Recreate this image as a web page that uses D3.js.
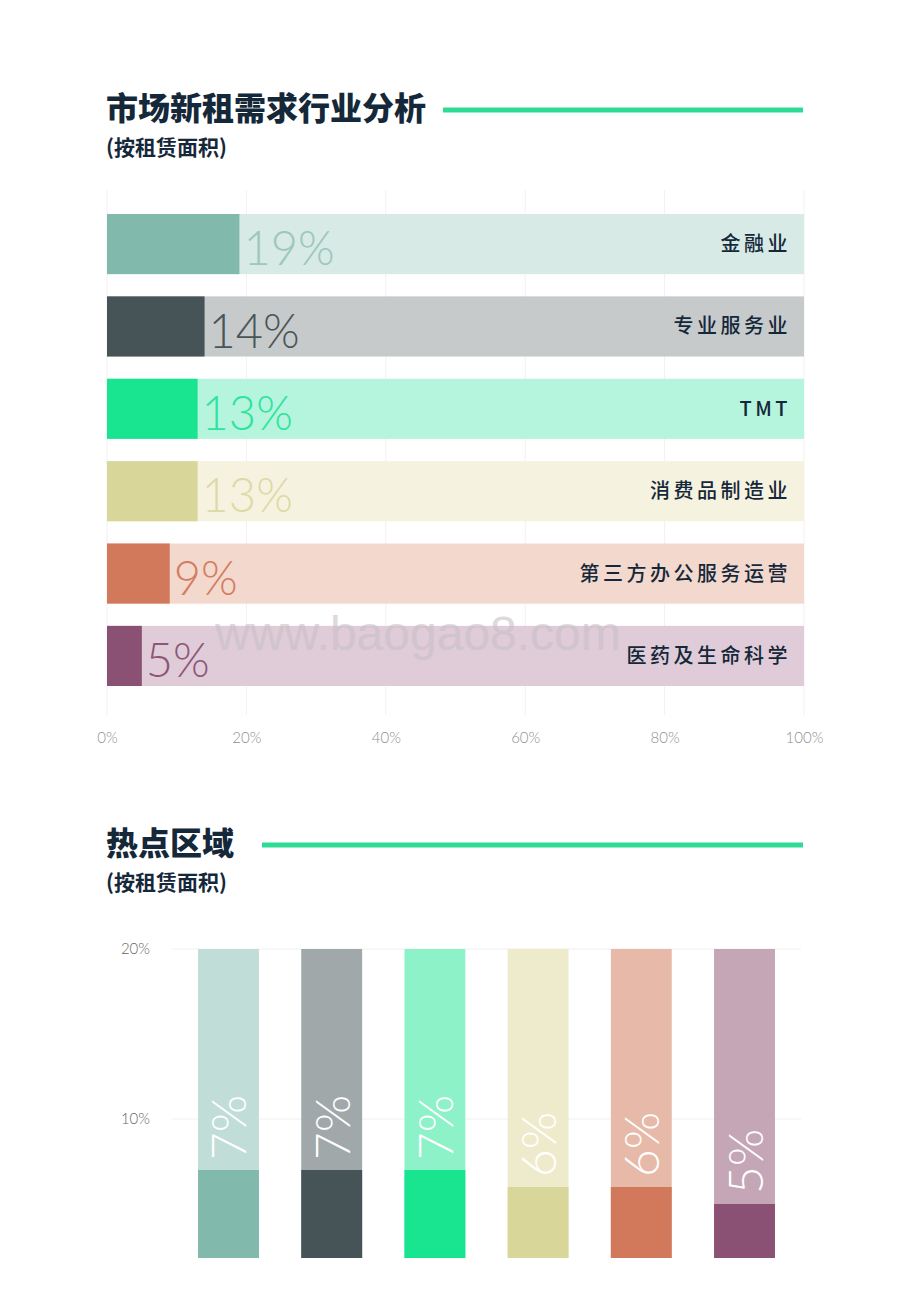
<!DOCTYPE html>
<html><head><meta charset="utf-8">
<script src="https://cdn.jsdelivr.net/npm/d3@7"></script>
<style>
html,body{margin:0;padding:0;background:#fff;}
svg{display:block;}
</style></head>
<body>
<svg id="c" width="920" height="1302"></svg>
<script>
// ---- data ----
const industries = ["金融业","专业服务业","TMT","消费品制造业","第三方办公服务运营","医药及生命科学"];
const industryShare = [19,14,13,13,9,5];
const industryTicks = [0,20,40,60,80,100];

const zoneShare = [7,7,7,6,6,5];
const zoneIds = ["z1","z2","z3","z4","z5","z6"];
const zoneTicks = [10,20];

const darkColors  = ["#82b9ad","#465457","#19e590","#d9d69a","#d2795b","#8a5174"];
const lightColors = ["#d7eae5","#c7cacb","#b6f5dd","#f5f3e0","#f3d8cd","#dfccd8"];
const labelColors = ["#9cc7bc","#4a5558","#2ee3a0","#dcdaa6","#d47c5f","#8d5676"];
const zoneLight   = ["#c1ddd7","#a0a8aa","#8ef2c8","#eeebcd","#e7b9a9","#c4a6b6"];

const svg = d3.select("#c");
const navy = "#15283a";
const cjk = "'Noto Sans CJK SC','Noto Sans',sans-serif";
const thin = "Lato,'Open Sans',sans-serif";

// ---- titles ----
function title(y, text, lineX, sub) {
  svg.append("text").attr("x",106).attr("y",y).text(text)
    .attr("font-family",cjk).attr("font-weight",900).attr("font-size",32).attr("fill",navy);
  svg.append("line").attr("x1",lineX).attr("x2",803).attr("y1",y-10).attr("y2",y-10)
    .attr("stroke","#2edb96").attr("stroke-width",5);
  svg.append("text").attr("x",106).attr("y",y+35).text(sub)
    .attr("font-family",cjk).attr("font-weight",700).attr("font-size",21).attr("fill",navy);
}
title(120, "市场新租需求行业分析", 443, "(按租赁面积)");
title(855, "热点区域", 262, "(按租赁面积)");

// ---- top horizontal bar chart ----
const x = d3.scaleLinear().domain([0,100]).range([107,804]);
const y = d3.scaleBand().domain(industries).range([214,686]).paddingInner(0.27).paddingOuter(0);

const gTop = svg.append("g");
gTop.selectAll("line.grid").data(industryTicks).join("line")
  .attr("x1",d=>x(d)).attr("x2",d=>x(d)).attr("y1",190).attr("y2",715)
  .attr("stroke","#f1f1f1").attr("stroke-width",1);

gTop.selectAll("rect.bg").data(industries).join("rect")
  .attr("x",x(0)).attr("y",d=>y(d)).attr("width",x(100)-x(0)).attr("height",y.bandwidth())
  .attr("fill",(d,i)=>lightColors[i]);
gTop.selectAll("rect.fg").data(industries).join("rect")
  .attr("x",x(0)).attr("y",d=>y(d)).attr("width",(d,i)=>x(industryShare[i])-x(0)).attr("height",y.bandwidth())
  .attr("fill",(d,i)=>darkColors[i]);
gTop.selectAll("text.val").data(industries).join("text")
  .attr("x",(d,i)=>x(industryShare[i])+4).attr("y",d=>y(d)+y.bandwidth()-9)
  .text((d,i)=>industryShare[i]+"%")
  .attr("font-family",thin).attr("font-weight",300).attr("font-size",47)
  .attr("fill",(d,i)=>labelColors[i]);
gTop.selectAll("text.cat").data(industries).join("text")
  .attr("x",791).attr("y",d=>y(d)+y.bandwidth()/2+7)
  .attr("text-anchor","end").text(d=>d)
  .attr("font-family",cjk).attr("font-weight",500).attr("font-size",20)
  .attr("letter-spacing",3.5).attr("fill",navy);

const xAxis = d3.axisBottom(x).tickValues(industryTicks).tickFormat(d=>d+"%").tickSize(0).tickPadding(0);
const ax = svg.append("g").attr("transform","translate(0,743)").call(xAxis);
ax.select(".domain").remove();
ax.selectAll("text").attr("font-family",thin).attr("font-weight",300).attr("font-size",15)
  .attr("fill","#8f8f8f").attr("dy",0);

// watermark
svg.append("text").attr("x",418).attr("y",650).attr("text-anchor","middle")
  .text("www.baogao8.com").attr("font-family","'Liberation Sans',Arial,sans-serif")
  .attr("font-size",48).attr("fill","#c9c0c6").attr("opacity",0.6);

// ---- bottom vertical bar chart ----
const xb = d3.scaleBand().domain(zoneIds).range([177,796]).paddingInner(0.41).paddingOuter(0.204);
const yb = d3.scaleLinear().domain([0,20]).range([1289,949]);

svg.append("defs").append("clipPath").attr("id","clipB")
  .append("rect").attr("x",0).attr("y",900).attr("width",920).attr("height",358);

const gB = svg.append("g");
gB.selectAll("line.grid").data(zoneTicks).join("line")
  .attr("x1",172).attr("x2",801).attr("y1",d=>yb(d)).attr("y2",d=>yb(d))
  .attr("stroke","#f0f0f0").attr("stroke-width",1);

const yAxis = d3.axisLeft(yb).tickValues(zoneTicks).tickFormat(d=>d+"%").tickSize(0).tickPadding(0);
const ay = svg.append("g").attr("transform","translate(150,0)").call(yAxis);
ay.select(".domain").remove();
ay.selectAll("text").attr("font-family",thin).attr("font-weight",300).attr("font-size",15).attr("fill","#666");

const gBars = svg.append("g").attr("clip-path","url(#clipB)");
gBars.selectAll("rect.bg").data(zoneIds).join("rect")
  .attr("x",d=>xb(d)).attr("width",xb.bandwidth()).attr("y",yb(20)).attr("height",yb(0)-yb(20))
  .attr("fill",(d,i)=>zoneLight[i]);
gBars.selectAll("rect.fg").data(zoneIds).join("rect")
  .attr("x",d=>xb(d)).attr("width",xb.bandwidth()).attr("y",(d,i)=>yb(zoneShare[i])).attr("height",(d,i)=>yb(0)-yb(zoneShare[i]))
  .attr("fill",(d,i)=>darkColors[i]);
gBars.selectAll("text.val").data(zoneIds).join("text")
  .attr("transform",(d,i)=>`translate(${xb(d)+xb.bandwidth()/2+18},${yb(zoneShare[i])-10}) rotate(-90)`)
  .text((d,i)=>zoneShare[i]+"%")
  .attr("font-family",thin).attr("font-weight",300).attr("font-size",48).attr("fill","#ffffff");
</script>
</body></html>
